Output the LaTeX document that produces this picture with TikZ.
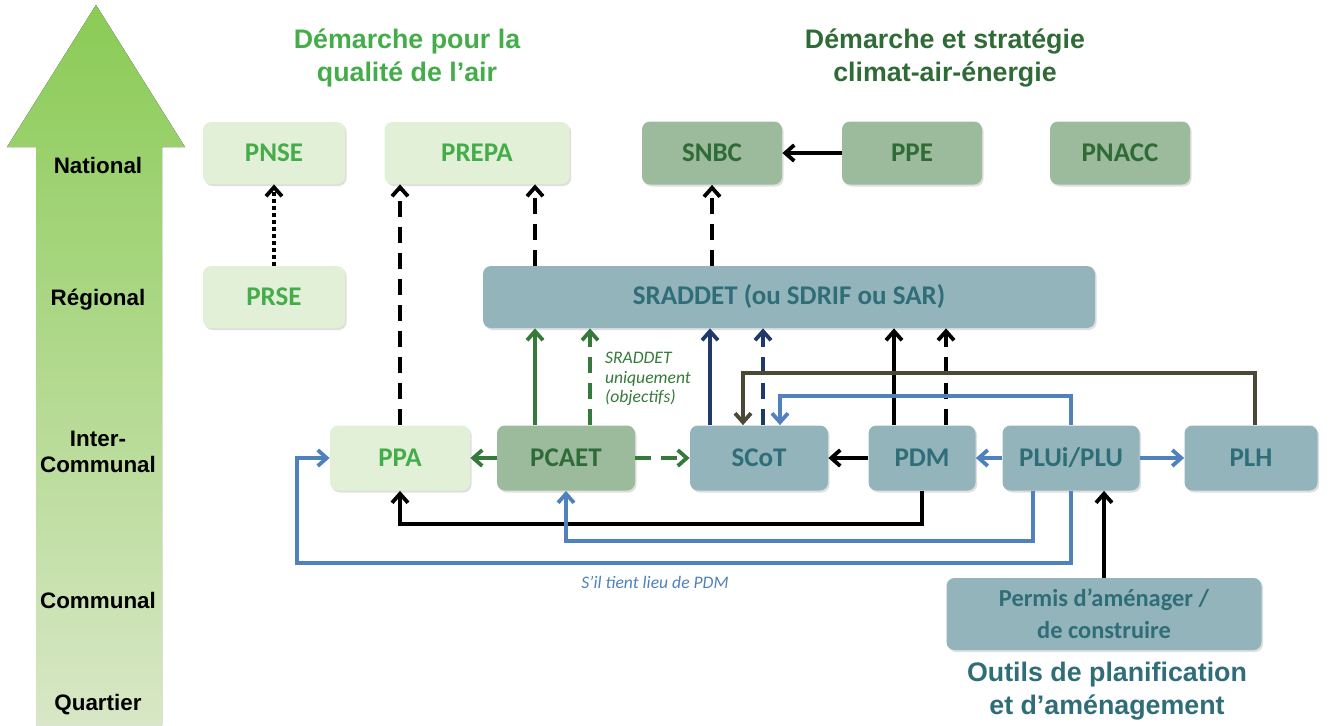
\documentclass[tikz,border=0pt]{standalone}
\usepackage{fontspec}
\setmainfont{Liberation Sans}
\newfontfamily\calibri{Carlito}
\usetikzlibrary{arrows.meta,shadows}

\definecolor{airfill}{HTML}{E2F0D8}
\definecolor{airtext}{HTML}{44AD4A}
\definecolor{climfill}{HTML}{9CBA9C}
\definecolor{climtext}{HTML}{2F6B36}
\definecolor{planfill}{HTML}{93B4BA}
\definecolor{plantext}{HTML}{2F6E78}
\definecolor{greenline}{HTML}{357A3A}
\definecolor{navyline}{HTML}{1F3A68}
\definecolor{blueline}{HTML}{4F81BD}
\definecolor{oliveline}{HTML}{4A4935}
\definecolor{arrowtop}{HTML}{8ACB55}
\definecolor{arrowbottom}{HTML}{D8E7C6}

\begin{document}
\begin{tikzpicture}[
    x=0.5pt,
    y=-0.5pt,
    box/.style={
        rounded corners=4pt,
        inner sep=2pt,
        align=center,
        font=\calibri\bfseries\fontsize{13.5}{16}\selectfont,
        drop shadow={shadow xshift=0.8pt, shadow yshift=-1pt, opacity=0.25}
    },
    airbox/.style={
        box,
        fill=airfill,
        text=airtext
    },
    climbox/.style={
        box,
        fill=climfill,
        text=climtext
    },
    planbox/.style={
        box,
        fill=planfill,
        text=plantext
    },
    level/.style={
        align=center,
        font=\bfseries\fontsize{11.2}{13}\selectfont
    },
    title/.style={
        align=center,
        font=\bfseries\fontsize{13.4}{16.5}\selectfont
    },
    note/.style={
        align=left,
        font=\calibri\itshape\fontsize{8.8}{9.7}\selectfont
    },
    link/.style={
        -{Straight Barb[length=4.5pt,width=8pt]},
        line width=1.9pt
    },
    dashlink/.style={
        link,
        dash pattern=on 8pt off 5pt
    },
    dotlink/.style={
        link,
        dash pattern=on 1.9pt off 1.6pt
    }
]
\useasboundingbox (0,0) rectangle (1329,725);

% scale arrow
\fill[top color=arrowtop, bottom color=arrowbottom]
    (36,725) -- (36,147) -- (7,147) -- (96,5) -- (185,147) -- (162,147) -- (162,725) -- cycle;
\node[level] (national) at (98,165) {National};
\node[level] (regional) at (98,300) {Régional};
\node[level] (intercom) at (98,452) {Inter-\\Communal};
\node[level] (communal) at (98,600) {Communal};
\node[level] (quartier) at (98,705) {Quartier};

% titles
\node[title, text=airtext] (airtitle) at (407,58) {Démarche pour la\\qualité de l’air};
\node[title, text=climtext] (climtitle) at (945,58) {Démarche et stratégie\\climat-air-énergie};
\node[title, text=plantext] (tooltitle) at (1107,691) {Outils de planification\\et d’aménagement};

% national
\node[airbox, minimum width=71pt, minimum height=31pt] (PNSE) at (274,153) {PNSE};
\node[airbox, minimum width=92.5pt, minimum height=31pt] (PREPA) at (477,153) {PREPA};
\node[climbox, minimum width=70pt, minimum height=31.5pt] (SNBC) at (712,153) {SNBC};
\node[climbox, minimum width=70pt, minimum height=31.5pt] (PPE) at (912,153) {PPE};
\node[climbox, minimum width=70pt, minimum height=31.5pt] (PNACC) at (1120,153) {PNACC};

% regional
\node[airbox, minimum width=71pt, minimum height=31pt] (PRSE) at (274,297) {PRSE};
\node[planbox, minimum width=306pt, minimum height=31pt] (SRADDET) at (789,297) {SRADDET (ou SDRIF ou SAR)};

% inter-communal
\node[airbox, minimum width=70pt, minimum height=32.5pt] (PPA) at (400,458) {PPA};
\node[climbox, minimum width=69pt, minimum height=32.5pt] (PCAET) at (566,458) {PCAET};
\node[planbox, minimum width=69pt, minimum height=32.5pt] (SCoT) at (759,458) {SCoT};
\node[planbox, minimum width=53.5pt, minimum height=32.5pt] (PDM) at (922,458) {PDM};
\node[planbox, minimum width=68.5pt, minimum height=32.5pt] (PLU) at (1071,458) {PLUi/PLU};
\node[planbox, minimum width=66.5pt, minimum height=32.5pt] (PLH) at (1251,458) {PLH};

% communal
\node[planbox, minimum width=157.5pt, minimum height=36pt, font=\calibri\bfseries\fontsize{12.2}{16}\selectfont] (Permis) at (1104,614) {Permis d’aménager /\\de construire};

% notes
\node[note, text=greenline, anchor=west] (objnote) at (598,379) {SRADDET\\uniquement\\(objectifs)};
\node[note, text=blueline] (pdmnote) at (655,582) {S’il tient lieu de PDM};

% links up to national level
\draw[dotlink] (PRSE) -- (PNSE);
\draw[dashlink] (PPA.north) -- (PPA.north |- PREPA.south);
\draw[dashlink] ([xshift=29pt]PREPA.south |- SRADDET.north) -- ([xshift=29pt]PREPA.south);
\draw[dashlink] (SNBC.south |- SRADDET.north) -- (SNBC.south);
\draw[link] (PPE) -- (SNBC);

% links up to SRADDET
\draw[link, greenline] ([xshift=-15.5pt]PCAET.north) -- ([xshift=-15.5pt]PCAET.north |- SRADDET.south);
\draw[dashlink, greenline] ([xshift=12pt]PCAET.north) -- ([xshift=12pt]PCAET.north |- SRADDET.south);
\draw[link, navyline] ([xshift=-24.5pt]SCoT.north) -- ([xshift=-24.5pt]SCoT.north |- SRADDET.south);
\draw[dashlink, navyline] ([xshift=2pt]SCoT.north) -- ([xshift=2pt]SCoT.north |- SRADDET.south);
\draw[link] ([xshift=-14pt]PDM.north) -- ([xshift=-14pt]PDM.north |- SRADDET.south);
\draw[dashlink] ([xshift=12pt]PDM.north) -- ([xshift=12pt]PDM.north |- SRADDET.south);

% links inside the inter-communal row
\draw[link, greenline] (PCAET) -- (PPA);
\draw[dashlink, greenline] (PCAET) -- (SCoT);
\draw[link] (PDM) -- (SCoT);
\draw[link, blueline] (PLU) -- (PDM);
\draw[link, blueline] (PLU) -- (PLH);
\draw[link, oliveline] ([xshift=2pt]PLH.north) -- ++(0pt,26pt) -| ([xshift=-8pt]SCoT.north);
\draw[link, blueline] (PLU.north) -- ++(0pt,14.5pt) -| ([xshift=10.5pt]SCoT.north);

% links running below the row
\draw[link] (PDM.south) -- ++(0pt,-16.5pt) -| (PPA.south);
\draw[link, blueline] ([xshift=-19pt]PLU.south) -- ++(0pt,-25pt) -| (PCAET.south);
\draw[link, blueline] (PLU.south) -- ++(0pt,-36pt) -| ([xshift=-16.5pt]PPA.west) -- (PPA.west);
\draw[link] (Permis.north) -- (Permis.north |- PLU.south);

\end{tikzpicture}
\end{document}
